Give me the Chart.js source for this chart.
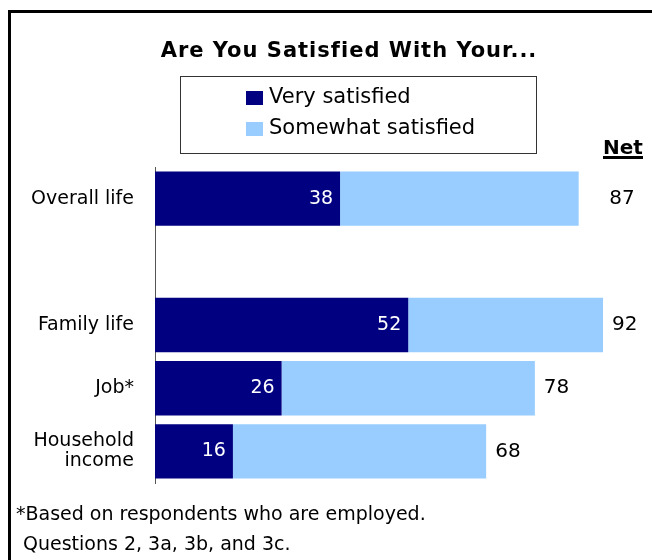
<!DOCTYPE html>
<html>
<head>
<meta charset="utf-8">
<script src="https://cdn.jsdelivr.net/npm/chart.js@4"></script>
<style>
  html, body { margin: 0; padding: 0; background: #fff; }
  #wrap { width: 652px; height: 560px; }
</style>
</head>
<body>
<div id="wrap"><canvas id="chart" width="652" height="560"></canvas></div>
<script>
const categories = ['Overall life', '', 'Family life', 'Job*', ['Household', 'income']];
const verySatisfied = [38, null, 52, 26, 16];
const somewhatSatisfied = [49, null, 40, 52, 52];
const netSatisfied = [87, null, 92, 78, 68];
const seriesNames = ['Very satisfied', 'Somewhat satisfied'];
const seriesColors = ['#000080', '#99ccff'];
const chartTitle = 'Are You Satisfied With Your...';
const netHeader = 'Net';
const footnotes = ['*Based on respondents who are employed.', 'Questions 2, 3a, 3b, and 3c.'];

const FONT = "'DejaVu Sans', sans-serif";
Chart.defaults.font.family = FONT;
Chart.defaults.color = '#000';

// frame, title, boxed legend, value labels, net column and notes
const extras = {
  id: 'extras',
  afterDraw(chart) {
    const ctx = chart.ctx;
    ctx.save();

    // outer frame (runs off the right and bottom edges)
    ctx.strokeStyle = '#000';
    ctx.lineWidth = 3;
    ctx.beginPath();
    ctx.moveTo(9.5, 600);
    ctx.lineTo(9.5, 11.5);
    ctx.lineTo(700, 11.5);
    ctx.stroke();

    // title, spaced out a little
    ctx.fillStyle = '#000';
    ctx.font = 'bold 21px ' + FONT;
    ctx.textAlign = 'center';
    ctx.textBaseline = 'alphabetic';
    ctx.letterSpacing = '1px';
    ctx.fillText(chartTitle, 349, 57);
    ctx.letterSpacing = '0px';

    // legend box
    ctx.strokeStyle = '#333';
    ctx.lineWidth = 1;
    ctx.strokeRect(180.5, 76.5, 356, 77);
    ctx.font = '21px ' + FONT;
    ctx.textAlign = 'left';
    ctx.textBaseline = 'middle';
    chart.data.datasets.forEach((ds, i) => {
      const y = 98 + i * 31;
      ctx.fillStyle = ds.backgroundColor;
      ctx.fillRect(246, y - 7, 17, 14);
      ctx.fillStyle = '#000';
      ctx.fillText(ds.label, 269, y);
    });

    // net header, underlined
    ctx.font = 'bold 20px ' + FONT;
    ctx.textAlign = 'center';
    ctx.textBaseline = 'alphabetic';
    ctx.fillText(netHeader, 623, 154);
    ctx.fillRect(603, 156, 40, 3);

    // values inside the dark bars
    const dark = chart.getDatasetMeta(0);
    ctx.font = '19px ' + FONT;
    ctx.fillStyle = '#fff';
    ctx.textAlign = 'right';
    ctx.textBaseline = 'middle';
    dark.data.forEach((bar, i) => {
      if (verySatisfied[i] == null) return;
      ctx.fillText(String(verySatisfied[i]), bar.x - 7, bar.y);
    });

    // net totals beside the bars; first row sits under the header
    const light = chart.getDatasetMeta(1);
    ctx.font = '20px ' + FONT;
    ctx.fillStyle = '#000';
    light.data.forEach((bar, i) => {
      if (netSatisfied[i] == null) return;
      if (i === 0) {
        ctx.textAlign = 'center';
        ctx.fillText(String(netSatisfied[i]), 622, bar.y);
      } else {
        ctx.textAlign = 'left';
        ctx.fillText(String(netSatisfied[i]), bar.x + 9, bar.y);
      }
    });

    // notes
    ctx.font = '19px ' + FONT;
    ctx.textAlign = 'left';
    ctx.textBaseline = 'alphabetic';
    ctx.fillText(footnotes[0], 16, 520);
    ctx.fillText(footnotes[1], 23, 550);

    ctx.restore();
  }
};

new Chart(document.getElementById('chart'), {
  type: 'bar',
  data: {
    labels: categories,
    datasets: [
      { label: seriesNames[0], data: verySatisfied, backgroundColor: seriesColors[0] },
      { label: seriesNames[1], data: somewhatSatisfied, backgroundColor: seriesColors[1] }
    ]
  },
  options: {
    indexAxis: 'y',
    responsive: false,
    animation: false,
    categoryPercentage: 1,
    barPercentage: 0.86,
    layout: { padding: { top: 167, bottom: 77, left: 0, right: 10 } },
    plugins: { legend: { display: false }, title: { display: false }, tooltip: { enabled: false } },
    scales: {
      x: { stacked: true, min: 0, max: 100, display: false },
      y: {
        stacked: true,
        grid: { display: false, drawTicks: false },
        border: { display: true, color: '#555', width: 1 },
        ticks: { padding: 21, font: { size: 19, lineHeight: 1.05 }, color: '#000' },
        afterFit(scale) { scale.width = 155; }
      }
    }
  },
  plugins: [extras]
});
</script>
</body>
</html>
